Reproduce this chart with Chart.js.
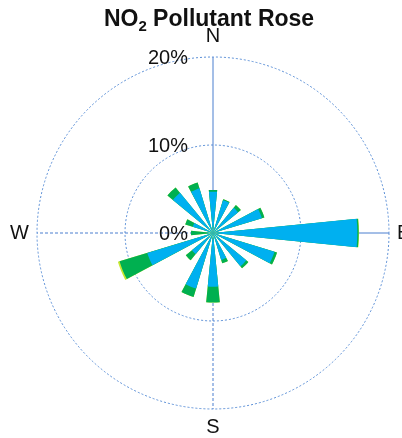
<!DOCTYPE html>
<html>
<head>
<meta charset="utf-8">
<script src="https://cdn.jsdelivr.net/npm/chart.js@4/dist/chart.umd.min.js"></script>
<style>
  html, body { margin: 0; padding: 0; background: #fff; }
  #wrap { width: 402px; height: 438px; }
</style>
</head>
<body>
<div id="wrap"><canvas id="roseChart"></canvas></div>
<script>
// 16 wind directions, clockwise from north
var directions = ["N", "NNE", "NE", "ENE", "E", "ESE", "SE", "SSE",
                  "S", "SSW", "SW", "WSW", "W", "WNW", "NW", "NNW"];
// frequency (%) of each concentration band per direction
var lowBand  = [4.7, 3.9, 3.7, 5.8, 16.4, 7.3, 4.9, 3.2, 6.1, 6.6, 3.1, 7.8, 0.7, 2.4, 5.9, 5.3];
var midBand  = [0.2, 0.1, 0.4, 0.3, 0.15, 0.3, 0.3, 0.4, 1.8, 1.0, 0.9, 3.3, 1.8, 0.9, 0.8, 0.7];
var highBand = [0, 0, 0, 0, 0.05, 0, 0, 0, 0, 0, 0, 0.2, 0, 0, 0, 0];
var rTicks = [0, 10, 20];
var compass = ["N", "E", "S", "W"];

// wedges take every other slot so they cover half of each 22.5° sector
function slots(vals) {
  var out = [];
  vals.forEach(function (v) { out.push(v, 0); });
  return out;
}
function cumulative(a, b) {
  return a.map(function (v, i) { return v + (b ? b[i] : 0); });
}
var lowCum = lowBand.slice();
var midCum = cumulative(lowBand, midBand);
var highCum = cumulative(midCum, highBand);

var labels = [];
directions.forEach(function (d) { labels.push(d, ""); });

var gridBlue = "#5b8fd6";

var roseExtras = {
  id: "roseExtras",
  beforeDatasetsDraw: function (chart) {
    var s = chart.scales.r, ctx = chart.ctx;
    var cx = s.xCenter, cy = s.yCenter, R = s.getDistanceFromCenterForValue(s.max);
    ctx.save();
    ctx.strokeStyle = "#4a7fcf";
    ctx.lineWidth = 1;
    // N and E solid, S and W dashed
    ctx.beginPath(); ctx.moveTo(cx, cy); ctx.lineTo(cx, cy - R); ctx.stroke();
    ctx.beginPath(); ctx.moveTo(cx, cy); ctx.lineTo(cx + R, cy); ctx.stroke();
    ctx.setLineDash([3, 2]);
    ctx.beginPath(); ctx.moveTo(cx, cy); ctx.lineTo(cx, cy + R); ctx.stroke();
    ctx.beginPath(); ctx.moveTo(cx, cy); ctx.lineTo(cx - R, cy); ctx.stroke();
    ctx.restore();
  },
  afterDraw: function (chart) {
    var s = chart.scales.r, ctx = chart.ctx;
    var cx = s.xCenter, cy = s.yCenter, R = s.getDistanceFromCenterForValue(s.max);
    ctx.save();
    ctx.fillStyle = "#111";
    // tick labels to the left of the north axis
    ctx.font = "20px 'Liberation Sans', Arial, sans-serif";
    ctx.textAlign = "right";
    ctx.textBaseline = "middle";
    rTicks.forEach(function (t) {
      ctx.fillText(t + "%", cx - 25, cy - s.getDistanceFromCenterForValue(t) + 1);
    });
    // compass letters
    ctx.textAlign = "center";
    ctx.fillText(compass[0], cx, cy - R - 21);
    ctx.fillText(compass[2], cx, cy + R + 18);
    ctx.textAlign = "left";
    ctx.fillText(compass[1], cx + R + 8, cy);
    ctx.textAlign = "right";
    ctx.fillText(compass[3], cx - R - 8, cy);
    // title with subscript
    var big = "bold 23px 'Liberation Sans', Arial, sans-serif";
    var small = "bold 15px 'Liberation Sans', Arial, sans-serif";
    var p1 = "NO", p2 = "2", p3 = " Pollutant Rose";
    ctx.font = big; var w1 = ctx.measureText(p1).width, w3 = ctx.measureText(p3).width;
    ctx.font = small; var w2 = ctx.measureText(p2).width;
    var x = (chart.width - (w1 + w2 + w3)) / 2 + 8, y = 26;
    ctx.textAlign = "left";
    ctx.textBaseline = "alphabetic";
    ctx.font = big; ctx.fillText(p1, x, y);
    ctx.font = small; ctx.fillText(p2, x + w1, y + 5);
    ctx.font = big; ctx.fillText(p3, x + w1 + w2, y);
    ctx.restore();
  }
};

var ctx = document.getElementById("roseChart").getContext("2d");
var chart = new Chart(ctx, {
  type: "polarArea",
  data: {
    labels: labels,
    datasets: [
      { label: "low", data: slots(lowCum), backgroundColor: "#00b0f0", borderWidth: 0 },
      { label: "mid", data: slots(midCum), backgroundColor: "#00b050", borderWidth: 0 },
      { label: "high", data: slots(highCum), backgroundColor: "#c8e830", borderWidth: 0 }
    ]
  },
  options: {
    responsive: true,
    maintainAspectRatio: false,
    animation: false,
    layout: { padding: { left: 37, right: 13, top: 57, bottom: 29 } },
    plugins: { legend: { display: false }, tooltip: { enabled: false } },
    scales: {
      r: {
        min: 0,
        max: 20,
        startAngle: -5.625,
        ticks: { stepSize: 10, display: false },
        grid: { color: gridBlue, lineWidth: 1 },
        border: { dash: [2, 2] }
      }
    }
  },
  plugins: [roseExtras]
});
</script>
</body>
</html>
